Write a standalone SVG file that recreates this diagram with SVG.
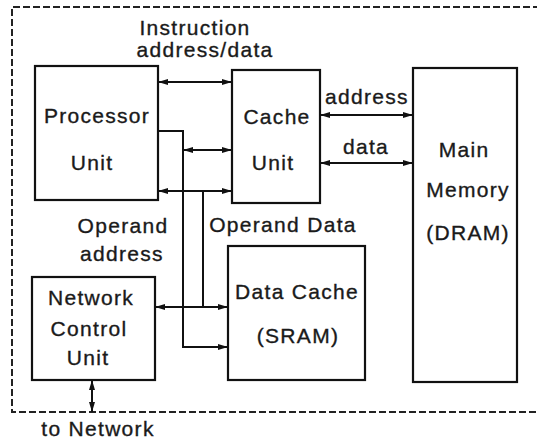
<svg xmlns="http://www.w3.org/2000/svg" width="537" height="441" viewBox="0 0 537 441">
  <style>
    .box { fill: #fff; stroke: #111; stroke-width: 2.2; }
    .wire { fill: none; stroke: #111; stroke-width: 2; }
    .border { fill: none; stroke: #222; stroke-width: 2; stroke-dasharray: 7 3; }
    text { font-family: "Liberation Sans", Arial, sans-serif; font-size: 21px; fill: #1a1a1a; stroke: #1a1a1a; stroke-width: 0.35; letter-spacing: 1.3px; text-anchor: middle; }
  </style>
  <defs>
    <marker id="ah" viewBox="0 0 10 6" refX="10" refY="3" markerWidth="10" markerHeight="6" markerUnits="userSpaceOnUse" orient="auto-start-reverse">
      <path d="M0,0 L10,3 L0,6 Z" fill="#111"/>
    </marker>
  </defs>

  <rect width="537" height="441" fill="#fff"/>

  <!-- system boundary (open on the right) -->
  <path class="border" d="M540,7 H12 V412 H540"/>

  <g id="labels">
    <text x="195" y="35">Instruction</text>
    <text x="205" y="57">address/data</text>
    <text x="367" y="104">address</text>
    <text x="366" y="154">data</text>
    <text x="123" y="233">Operand</text>
    <text x="122" y="261">address</text>
    <text x="283" y="232">Operand Data</text>
    <text x="98" y="436">to Network</text>
  </g>

  <g id="processor">
    <rect class="box" x="35" y="66" width="123" height="134"/>
    <text x="97" y="123">Processor</text>
    <text x="92" y="170">Unit</text>
  </g>

  <g id="cache">
    <rect class="box" x="232" y="70" width="88" height="133"/>
    <text x="277" y="124">Cache</text>
    <text x="273" y="170">Unit</text>
  </g>

  <g id="main-memory">
    <rect class="box" x="413" y="68" width="104" height="314"/>
    <text x="464" y="157">Main</text>
    <text x="468" y="197">Memory</text>
    <text x="468" y="240">(DRAM)</text>
  </g>

  <g id="data-cache">
    <rect class="box" x="228" y="246" width="137" height="134"/>
    <text x="297" y="299">Data Cache</text>
    <text x="298" y="343">(SRAM)</text>
  </g>

  <g id="network-control">
    <rect class="box" x="32" y="277" width="123" height="103"/>
    <text x="91" y="305">Network</text>
    <text x="89" y="336">Control</text>
    <text x="88" y="365">Unit</text>
  </g>

  <g id="connectors">
    <!-- instruction address/data -->
    <path class="wire" d="M158,82 H232" marker-start="url(#ah)" marker-end="url(#ah)"/>
    <path class="wire" d="M183,150 H232" marker-start="url(#ah)" marker-end="url(#ah)"/>
    <path class="wire" d="M158,191 H232" marker-start="url(#ah)" marker-end="url(#ah)"/>
    <!-- operand address -->
    <path class="wire" d="M158,131 H183 V347 H228" marker-end="url(#ah)"/>
    <!-- operand data -->
    <path class="wire" d="M203,191 V307"/>
    <path class="wire" d="M155,307 H228" marker-start="url(#ah)" marker-end="url(#ah)"/>
    <!-- cache to main memory -->
    <path class="wire" d="M320,115 H413" marker-start="url(#ah)" marker-end="url(#ah)"/>
    <path class="wire" d="M320,163 H413" marker-start="url(#ah)" marker-end="url(#ah)"/>
    <!-- network link -->
    <path class="wire" d="M92,380 V412" marker-start="url(#ah)" marker-end="url(#ah)"/>
  </g>
</svg>
